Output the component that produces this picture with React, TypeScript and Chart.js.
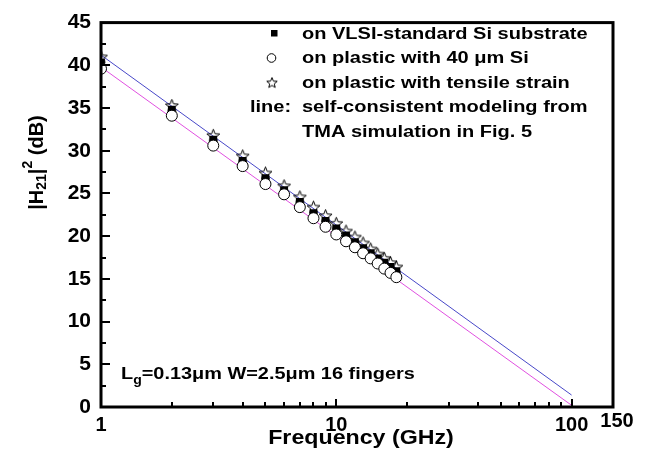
import React, { useEffect, useRef } from "react";
import { Chart, registerables } from "chart.js";

Chart.register(...registerables);

// ---------- data ----------
const frequencyGHz = [1, 2, 3, 4, 5, 6, 7, 8, 9, 10, 11, 12, 13, 14, 15, 16, 17, 18];
const vlsiSubstrate = [40.3, 34.8, 31.3, 28.8, 26.8, 25.4, 24.0, 22.7, 21.8, 20.9, 20.1, 19.3, 18.6, 18.0, 17.4, 16.9, 16.4, 15.9];
const plastic40um = [39.6, 34.1, 30.6, 28.2, 26.1, 24.9, 23.4, 22.1, 21.1, 20.2, 19.4, 18.7, 18.0, 17.4, 16.8, 16.2, 15.7, 15.2];
const plasticTensile = [41.0, 35.3, 31.8, 29.4, 27.4, 25.9, 24.6, 23.4, 22.4, 21.5, 20.6, 19.9, 19.2, 18.5, 17.9, 17.4, 16.9, 16.4];
const modelFrequency = [1, 100];
const modelUpper = [41.2, 1.4];
const modelLower = [39.8, 0.2];

const xTickLabels = [1, 10, 100, 150];
const xMajorTicks = [10, 100];
const xMinorTicks = [2, 3, 4, 5, 6, 7, 8, 9, 20, 30, 40, 50, 60, 70, 80, 90];
const yTickLabels = [0, 5, 10, 15, 20, 25, 30, 35, 40, 45];
const yMinorTicks = [2.5, 7.5, 12.5, 17.5, 22.5, 27.5, 32.5, 37.5, 42.5];

const legendLabels = [
  "on VLSI-standard Si substrate",
  "on plastic with 40 \u03bcm Si",
  "on plastic with tensile strain",
];
const modelNotePrefix = "line:";
const modelNoteLines = ["self-consistent modeling from", "TMA simulation in Fig. 5"];
const xTitle = "Frequency (GHz)";

const FONT = "'Liberation Sans', Arial, sans-serif";

function makeStar(R: number, r: number, lw: number) {
  const size = Math.ceil(2 * R + 3);
  const c = document.createElement("canvas");
  c.width = size;
  c.height = size;
  const g = c.getContext("2d")!;
  const cx = size / 2;
  const cy = size / 2 + R * 0.1;
  g.beginPath();
  for (let i = 0; i < 10; i++) {
    const rad = i % 2 === 0 ? R : r;
    const ang = -Math.PI / 2 + (i * Math.PI) / 5;
    const px = cx + rad * Math.cos(ang);
    const py = cy + rad * Math.sin(ang);
    if (i === 0) g.moveTo(px, py);
    else g.lineTo(px, py);
  }
  g.closePath();
  g.strokeStyle = "#000";
  g.lineWidth = lw;
  g.stroke();
  return c;
}

function stretchedText(
  ctx: CanvasRenderingContext2D,
  text: string,
  x: number,
  y: number,
  size: number,
  sx: number
) {
  ctx.save();
  ctx.font = `bold ${size}px ${FONT}`;
  ctx.textBaseline = "alphabetic";
  ctx.textAlign = "left";
  ctx.translate(x, y);
  ctx.scale(sx, 1);
  ctx.fillText(text, 0, 0);
  const w = ctx.measureText(text).width * sx;
  ctx.restore();
  return w;
}

export default function App() {
  const canvasRef = useRef<HTMLCanvasElement | null>(null);

  useEffect(() => {
    const canvas = canvasRef.current;
    if (!canvas) return;
    const starData = makeStar(6.8, 2.9, 1);
    const starLegend = makeStar(5.5, 2.4, 1);

    const decor = {
      id: "decor",
      afterDraw(chart: any) {
        const { ctx, chartArea: a, scales } = chart;
        const xs = scales.x;
        const ys = scales.y;
        ctx.save();
        ctx.fillStyle = "#000";
        ctx.strokeStyle = "#000";

        // inward ticks
        ctx.lineWidth = 2;
        ctx.beginPath();
        xMajorTicks.forEach((v) => {
          const p = Math.round(xs.getPixelForValue(v));
          ctx.moveTo(p, a.bottom);
          ctx.lineTo(p, a.bottom - 8);
        });
        xMinorTicks.forEach((v) => {
          const p = Math.round(xs.getPixelForValue(v));
          ctx.moveTo(p, a.bottom);
          ctx.lineTo(p, a.bottom - 5);
        });
        yTickLabels.forEach((v) => {
          const p = Math.round(ys.getPixelForValue(v));
          ctx.moveTo(a.left, p);
          ctx.lineTo(a.left + 9, p);
        });
        yMinorTicks.forEach((v) => {
          const p = Math.round(ys.getPixelForValue(v));
          ctx.moveTo(a.left, p);
          ctx.lineTo(a.left + 5, p);
        });
        ctx.stroke();

        // frame
        ctx.lineWidth = 3;
        ctx.strokeRect(a.left, a.top, a.right - a.left, a.bottom - a.top);

        // raised "150" label at the end of the axis
        ctx.font = `bold 20px ${FONT}`;
        ctx.textAlign = "center";
        ctx.textBaseline = "middle";
        ctx.fillText(String(xTickLabels[3]), xs.getPixelForValue(xTickLabels[3]) + 4, 421);

        // legend
        const rowsY = [38.5, 63, 87.5, 112, 136.5];
        const textX = 302;
        // filled square
        ctx.fillRect(271, 30, 6.5, 6.5);
        // open circle
        ctx.beginPath();
        ctx.lineWidth = 1;
        ctx.arc(271.5, 58, 4.3, 0, Math.PI * 2);
        ctx.stroke();
        // star
        ctx.drawImage(starLegend, 272 - starLegend.width / 2, 82.5 - starLegend.height / 2);
        legendLabels.forEach((t, i) => stretchedText(ctx, t, textX, rowsY[i], 16, 1.25));
        stretchedText(ctx, modelNotePrefix, 250, rowsY[3], 16, 1.25);
        stretchedText(ctx, modelNoteLines[0], textX, rowsY[3], 16, 1.25);
        stretchedText(ctx, modelNoteLines[1], textX, rowsY[4], 16, 1.25);

        // device annotation
        let ax = 121;
        const ay = 379;
        ax += stretchedText(ctx, "L", ax, ay, 17, 1.17);
        ax += stretchedText(ctx, "g", ax, ay + 5, 12, 1.17);
        stretchedText(ctx, "=0.13\u03bcm W=2.5\u03bcm 16 fingers", ax, ay, 17, 1.17);

        // x title
        ctx.save();
        ctx.font = `bold 20px ${FONT}`;
        const tw = ctx.measureText(xTitle).width * 1.16;
        ctx.restore();
        stretchedText(ctx, xTitle, 361 - tw / 2, 444, 20, 1.16);

        // y title  |H21|^2 (dB)
        ctx.save();
        ctx.translate(43, 162.5);
        ctx.rotate(-Math.PI / 2);
        ctx.textAlign = "left";
        ctx.textBaseline = "alphabetic";
        const parts: [string, number, number][] = [
          ["|H", 20, 0],
          ["21", 14, 3],
          ["|", 20, 0],
          ["2", 14, -11],
          [" (dB)", 20, 0],
        ];
        let total = 0;
        parts.forEach(([t, s]) => {
          ctx.font = `bold ${s}px ${FONT}`;
          total += ctx.measureText(t).width;
        });
        let px = -total / 2;
        parts.forEach(([t, s, dy]) => {
          ctx.font = `bold ${s}px ${FONT}`;
          ctx.fillText(t, px, dy);
          px += ctx.measureText(t).width;
        });
        ctx.restore();

        ctx.restore();
      },
    };

    const pts = (ys: number[]) => frequencyGHz.map((f, i) => ({ x: f, y: ys[i] }));
    const linePts = (ys: number[]) => modelFrequency.map((f, i) => ({ x: f, y: ys[i] }));

    const chart = new Chart(canvas, {
      type: "scatter",
      data: {
        datasets: [
          {
            label: legendLabels[1],
            data: pts(plastic40um),
            pointStyle: "circle",
            pointRadius: 5.5,
            backgroundColor: "#ffffff",
            borderColor: "#000000",
            borderWidth: 1,
            order: 0,
            clip: 0,
          } as any,
          {
            label: legendLabels[2],
            data: pts(plasticTensile),
            pointStyle: starData,
            pointRadius: 7,
            order: 1,
            clip: 0,
          },
          {
            label: legendLabels[0],
            data: pts(vlsiSubstrate),
            pointStyle: "rect",
            pointRadius: 5.5,
            backgroundColor: "#000000",
            borderColor: "#000000",
            borderWidth: 0,
            order: 2,
            clip: 0,
          },
          {
            label: "model upper",
            data: linePts(modelUpper),
            showLine: true,
            pointRadius: 0,
            borderColor: "#4848c8",
            borderWidth: 1,
            order: 3,
            clip: 0,
          },
          {
            label: "model lower",
            data: linePts(modelLower),
            showLine: true,
            pointRadius: 0,
            borderColor: "#e050e0",
            borderWidth: 1,
            order: 4,
            clip: 0,
          },
        ],
      },
      options: {
        responsive: false,
        animation: false,
        events: [],
        layout: { padding: { top: 14, right: 42, left: 0, bottom: 0 } },
        plugins: {
          legend: { display: false },
          tooltip: { enabled: false },
          title: { display: false },
        },
        scales: {
          x: {
            type: "logarithmic",
            min: 1,
            max: 150,
            afterBuildTicks: (s: any) => {
              s.ticks = xTickLabels.map((v) => ({ value: v }));
            },
            afterFit: (s: any) => {
              s.height = 52;
            },
            ticks: {
              autoSkip: false,
              maxRotation: 0,
              minRotation: 0,
              padding: 6,
              color: "#000",
              font: { family: FONT, size: 20, weight: "bold" },
              callback: (v: any) => (Number(v) === 150 ? "" : String(v)),
            },
            grid: { display: false, drawTicks: false },
            border: { display: false },
          },
          y: {
            type: "linear",
            min: 0,
            max: 45,
            afterBuildTicks: (s: any) => {
              s.ticks = yTickLabels.map((v) => ({ value: v }));
            },
            afterFit: (s: any) => {
              s.width = 101;
            },
            ticks: {
              padding: 10,
              color: "#000",
              font: { family: FONT, size: 21, weight: "bold" },
              callback: (v: any) => String(v),
            },
            grid: { display: false, drawTicks: false },
            border: { display: false },
          },
        },
      },
      plugins: [decor],
    } as any);

    return () => chart.destroy();
  }, []);

  return (
    <div style={{ position: "fixed", left: 0, top: 0, width: 655, height: 459, background: "#fff" }}>
      <canvas ref={canvasRef} width={655} height={459} style={{ display: "block" }} />
    </div>
  );
}
